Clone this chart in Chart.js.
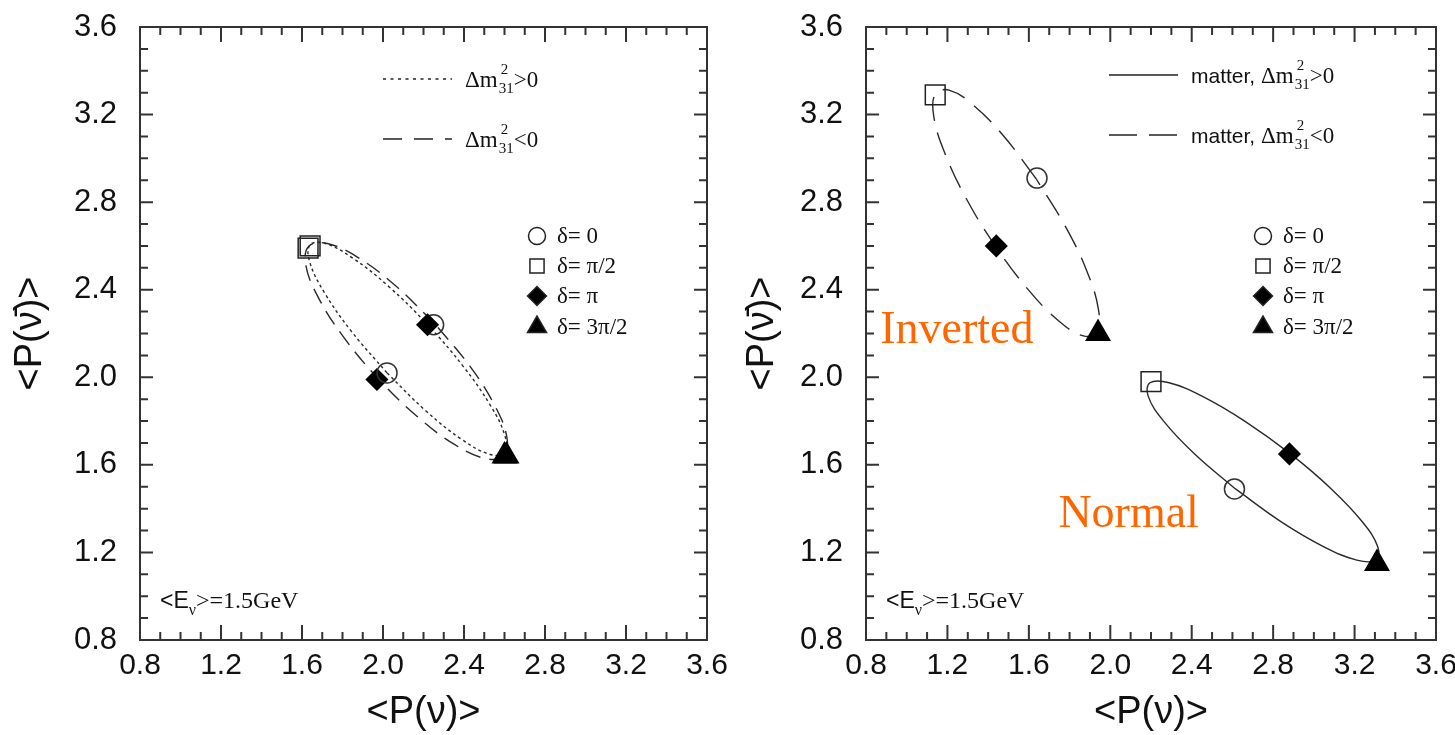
<!DOCTYPE html>
<html>
<head>
<meta charset="utf-8">
<title>&lt;P(ν)&gt; vs &lt;P(ν̄)&gt;</title>
<script src="https://cdn.jsdelivr.net/npm/chart.js@4.4.1/dist/chart.umd.min.js"></script>
<style>
  html, body { margin: 0; padding: 0; background: #fff; }
  #wrap { position: relative; width: 1455px; height: 735px; overflow: hidden; }
  .panel { position: absolute; top: 0; height: 735px; }
  #pl { left: 0; width: 728px; }
  #pr { left: 728px; width: 727px; }
</style>
</head>
<body>
<div id="wrap">
  <div class="panel" id="pl"><canvas id="chart-left"></canvas></div>
  <div class="panel" id="pr"><canvas id="chart-right"></canvas></div>
</div>
<script>
/* ════════════════════════════════════════
   DATA
════════════════════════════════════════ */
// same ticks on both axes of both panels
var TICK_VALUES = [0.8, 1.2, 1.6, 2.0, 2.4, 2.8, 3.2, 3.6];
var TICK_LABELS = ['0.8', '1.2', '1.6', '2.0', '2.4', '2.8', '3.2', '3.6'];
var DELTA_LABELS = ['δ= 0', 'δ= π/2', 'δ= π', 'δ= 3π/2'];

// ── vacuum: curves traced over δ, start and end at δ = 0 ──
var VAC_NH_X = [2.02, 1.844, 1.71, 1.638, 1.64, 1.715, 1.851, 2.029, 2.22, 2.396, 2.53, 2.602, 2.60, 2.525, 2.389, 2.211, 2.02];
var VAC_NH_Y = [2.02, 2.21, 2.388, 2.527, 2.605, 2.611, 2.544, 2.414, 2.24, 2.05, 1.872, 1.733, 1.655, 1.649, 1.716, 1.847, 2.02];
var VAC_IH_X = [2.255, 2.061, 1.875, 1.725, 1.635, 1.618, 1.677, 1.802, 1.975, 2.169, 2.355, 2.505, 2.595, 2.612, 2.553, 2.428, 2.255];
var VAC_IH_Y = [2.245, 2.419, 2.548, 2.611, 2.60, 2.516, 2.371, 2.188, 1.995, 1.821, 1.692, 1.629, 1.64, 1.724, 1.869, 2.052, 2.245];
// δ = 0, π/2, π, 3π/2
var VAC_NH_PX = [2.02, 1.64, 2.22, 2.60];
var VAC_NH_PY = [2.02, 2.60, 2.24, 1.64];
var VAC_IH_PX = [2.25, 1.63, 1.97, 2.61];
var VAC_IH_PY = [2.24, 2.59, 1.99, 1.64];

// ── matter ──
var MAT_NH_X = [2.615, 2.413, 2.262, 2.186, 2.195, 2.289, 2.453, 2.662, 2.885, 3.087, 3.238, 3.314, 3.305, 3.211, 3.047, 2.838, 2.615];
var MAT_NH_Y = [1.49, 1.651, 1.80, 1.914, 1.975, 1.975, 1.913, 1.799, 1.65, 1.489, 1.34, 1.226, 1.165, 1.165, 1.227, 1.341, 1.49];
var MAT_IH_X = [1.635, 1.475, 1.325, 1.208, 1.14, 1.133, 1.188, 1.295, 1.44, 1.60, 1.75, 1.868, 1.935, 1.942, 1.888, 1.78, 1.635];
var MAT_IH_Y = [2.908, 3.103, 3.245, 3.312, 3.293, 3.191, 3.022, 2.812, 2.593, 2.397, 2.255, 2.189, 2.208, 2.309, 2.478, 2.688, 2.908];
var MAT_NH_PX = [2.61, 2.20, 2.88, 3.31];
var MAT_NH_PY = [1.49, 1.98, 1.65, 1.15];
var MAT_IH_PX = [1.64, 1.14, 1.44, 1.94];
var MAT_IH_PY = [2.91, 3.29, 2.60, 2.20];

/* ════════════════════════════════════════
   STYLE
════════════════════════════════════════ */
var FONT_SANS   = "'Liberation Sans', Arial, sans-serif";
var FONT_NARROW = "'Liberation Sans Narrow', 'Liberation Sans', Arial, sans-serif";
var FONT_SERIF  = "'Liberation Serif', 'Times New Roman', serif";
var INK = '#111';
var FRAME = '#333';

var MARK_STYLES = ['circle', 'rect', 'rectRot', 'triangle'];
var MARK_RADII  = [10, 14, 10.5, 13.5];
var MARK_FILLS  = ['rgba(0,0,0,0)', 'rgba(0,0,0,0)', '#000', '#000'];
var LEG_RADII   = [8.5, 10, 9.5, 11];

function pts(xs, ys) {
  return xs.map(function(x, i) { return { x: x, y: ys[i] }; });
}

function curveSet(xs, ys, dash) {
  return {
    data: pts(xs, ys), showLine: true, tension: 0.4, fill: false,
    borderColor: '#2a2a2a', borderWidth: 1.4, borderDash: dash,
    pointRadius: 0, pointHoverRadius: 0, order: 2
  };
}

function markSet(xs, ys) {
  return {
    data: pts(xs, ys), showLine: false,
    pointStyle: MARK_STYLES, pointRadius: MARK_RADII,
    pointBackgroundColor: MARK_FILLS,
    pointBorderColor: ['#333', '#222', '#000', '#000'],
    pointBorderWidth: 1.5, order: 1
  };
}

/* ════════════════════════════════════════
   DECORATION PLUGIN — frame, inward ticks, legends, notes
════════════════════════════════════════ */
function drawDm(ctx, x, y, prefix, sign) {
  var base = y + 8;
  ctx.fillStyle = INK; ctx.textAlign = 'left'; ctx.textBaseline = 'alphabetic';
  if (prefix) {
    ctx.font = '21px ' + FONT_SANS;
    ctx.fillText(prefix, x, base);
    x += ctx.measureText(prefix).width;
  }
  ctx.font = '23px ' + FONT_SERIF;
  ctx.fillText('Δm', x, base);
  x += ctx.measureText('Δm').width + 1;
  ctx.font = '15px ' + FONT_SERIF;
  ctx.fillText('2', x + 2, base - 13);
  ctx.fillText('31', x, base + 6);
  x += ctx.measureText('31').width;
  ctx.font = '23px ' + FONT_SERIF;
  ctx.fillText(sign + '0', x, base);
}

function drawEnergy(ctx, x, y) {
  ctx.fillStyle = INK; ctx.textAlign = 'left'; ctx.textBaseline = 'alphabetic';
  ctx.font = '23px ' + FONT_SANS;
  ctx.fillText('<E', x, y);
  x += ctx.measureText('<E').width;
  ctx.font = '16px ' + FONT_SERIF;
  ctx.fillText('ν', x, y + 7);
  x += ctx.measureText('ν').width;
  ctx.font = '24px ' + FONT_SERIF;
  ctx.fillText('>=1.5GeV', x, y);
}

function drawMark(ctx, style, r, fill, x, y) {
  ctx.fillStyle = fill; ctx.strokeStyle = '#222'; ctx.lineWidth = 1.5;
  if (Chart.helpers && Chart.helpers.drawPoint) {
    Chart.helpers.drawPoint(ctx, { pointStyle: style, radius: r, borderWidth: 1.5, rotation: 0 }, x, y);
  }
}

var panelDecor = {
  id: 'panelDecor',
  afterDraw: function(chart, args, o) {
    var ctx = chart.ctx, a = chart.chartArea;
    var xs = chart.scales.x, ys = chart.scales.y;
    ctx.save();

    // ── frame + inward ticks on all four sides ──
    ctx.strokeStyle = FRAME; ctx.lineWidth = 2; ctx.setLineDash([]);
    ctx.strokeRect(a.left, a.top, a.right - a.left, a.bottom - a.top);
    ctx.beginPath();
    for (var k = 9; k < 36; k++) {
      var major = (k - 8) % 4 === 0;
      var px = xs.getPixelForValue(k / 10), py = ys.getPixelForValue(k / 10);
      var lx = major ? 15 : 8, ly = major ? 13 : 8;
      ctx.moveTo(px, a.bottom); ctx.lineTo(px, a.bottom - lx);
      ctx.moveTo(px, a.top);    ctx.lineTo(px, a.top + lx);
      ctx.moveTo(a.left, py);   ctx.lineTo(a.left + ly, py);
      ctx.moveTo(a.right, py);  ctx.lineTo(a.right - ly, py);
    }
    ctx.stroke();

    // ── line-style legend ──
    o.lines.forEach(function(l) {
      ctx.beginPath();
      ctx.strokeStyle = '#222'; ctx.lineWidth = 1.4; ctx.setLineDash(l.dash);
      ctx.moveTo(a.left + 243, a.top + l.dy);
      ctx.lineTo(a.left + 312, a.top + l.dy);
      ctx.stroke();
      ctx.setLineDash([]);
      drawDm(ctx, a.left + 325, a.top + l.dy, o.prefix, l.sign);
    });

    // ── δ marker legend ──
    var legY = [209, 239, 269, 300];
    DELTA_LABELS.forEach(function(txt, i) {
      drawMark(ctx, MARK_STYLES[i], LEG_RADII[i], MARK_FILLS[i], a.left + 397, a.top + legY[i]);
      ctx.fillStyle = INK; ctx.textAlign = 'left'; ctx.textBaseline = 'middle';
      ctx.font = '23px ' + FONT_SERIF;
      ctx.fillText(txt, a.left + 417, a.top + legY[i] + 1);
    });

    drawEnergy(ctx, a.left + 20, a.bottom - 32);

    // ── hierarchy labels ──
    (o.notes || []).forEach(function(n) {
      ctx.fillStyle = '#ff6600'; ctx.textAlign = 'left'; ctx.textBaseline = 'alphabetic';
      ctx.font = '46px ' + FONT_SERIF;
      ctx.fillText(n.text, xs.getPixelForValue(n.x), ys.getPixelForValue(n.y));
    });
    ctx.restore();
  }
};

/* ════════════════════════════════════════
   PANELS
════════════════════════════════════════ */
function axisOpts(pos, title, size, titlePad) {
  var horiz = pos === 'bottom';
  return {
    type: 'linear', position: pos, min: 0.8, max: 3.6,
    grid: { display: false, drawTicks: false },
    border: { display: false },
    afterBuildTicks: function(s) { s.ticks = TICK_VALUES.map(function(v) { return { value: v }; }); },
    afterFit: function(s) {
      // fixed axis band; end labels may hang past the frame
      if (horiz) { s.height = size; s.paddingLeft = 0; s.paddingRight = 0; }
      else { s.width = size; s.paddingTop = 0; s.paddingBottom = 0; }
    },
    ticks: {
      autoSkip: false, maxRotation: 0, minRotation: 0, color: INK,
      padding: horiz ? 8 : 23,
      font: horiz ? { family: FONT_NARROW, size: 30 } : { family: FONT_SANS, size: 31 },
      callback: function(v, i) { return TICK_LABELS[i]; }
    },
    title: {
      display: true, text: title, color: INK, padding: titlePad,
      font: { family: FONT_SANS, size: 38 }
    }
  };
}

function buildPanel(canvasId, datasets, yWidth, padRight, yTitlePad, decor) {
  return new Chart(document.getElementById(canvasId).getContext('2d'), {
    type: 'scatter',
    data: { datasets: datasets },
    options: {
      responsive: true, maintainAspectRatio: false, animation: false,
      layout: { padding: { top: 27, right: padRight, bottom: 0, left: 0 } },
      plugins: { legend: { display: false }, tooltip: { enabled: false }, panelDecor: decor },
      scales: {
        x: axisOpts('bottom', '<P(ν)>', 95, { top: 0, bottom: 0 }),
        y: axisOpts('left', '<P(ν̄)>', yWidth, { top: yTitlePad, bottom: 0 })
      }
    },
    plugins: [panelDecor]
  });
}

buildPanel('chart-left', [
  curveSet(VAC_NH_X, VAC_NH_Y, [3, 3]),
  curveSet(VAC_IH_X, VAC_IH_Y, [16, 9]),
  markSet(VAC_NH_PX, VAC_NH_PY),
  markSet(VAC_IH_PX, VAC_IH_PY)
], 140, 21, 8, {
  prefix: '',
  lines: [ { dy: 52, dash: [3, 4.5], sign: '>' }, { dy: 112, dash: [19, 12], sign: '<' } ]
});

buildPanel('chart-right', [
  curveSet(MAT_NH_X, MAT_NH_Y, []),
  curveSet(MAT_IH_X, MAT_IH_Y, [24, 12]),
  markSet(MAT_NH_PX, MAT_NH_PY),
  markSet(MAT_IH_PX, MAT_IH_PY)
], 138, 19, 12, {
  prefix: 'matter, ',
  lines: [ { dy: 48, dash: [], sign: '>' }, { dy: 108, dash: [28, 12], sign: '<' } ],
  notes: [ { text: 'Inverted', x: 0.87, y: 2.155 }, { text: 'Normal', x: 1.745, y: 1.315 } ]
});
</script>
</body>
</html>
